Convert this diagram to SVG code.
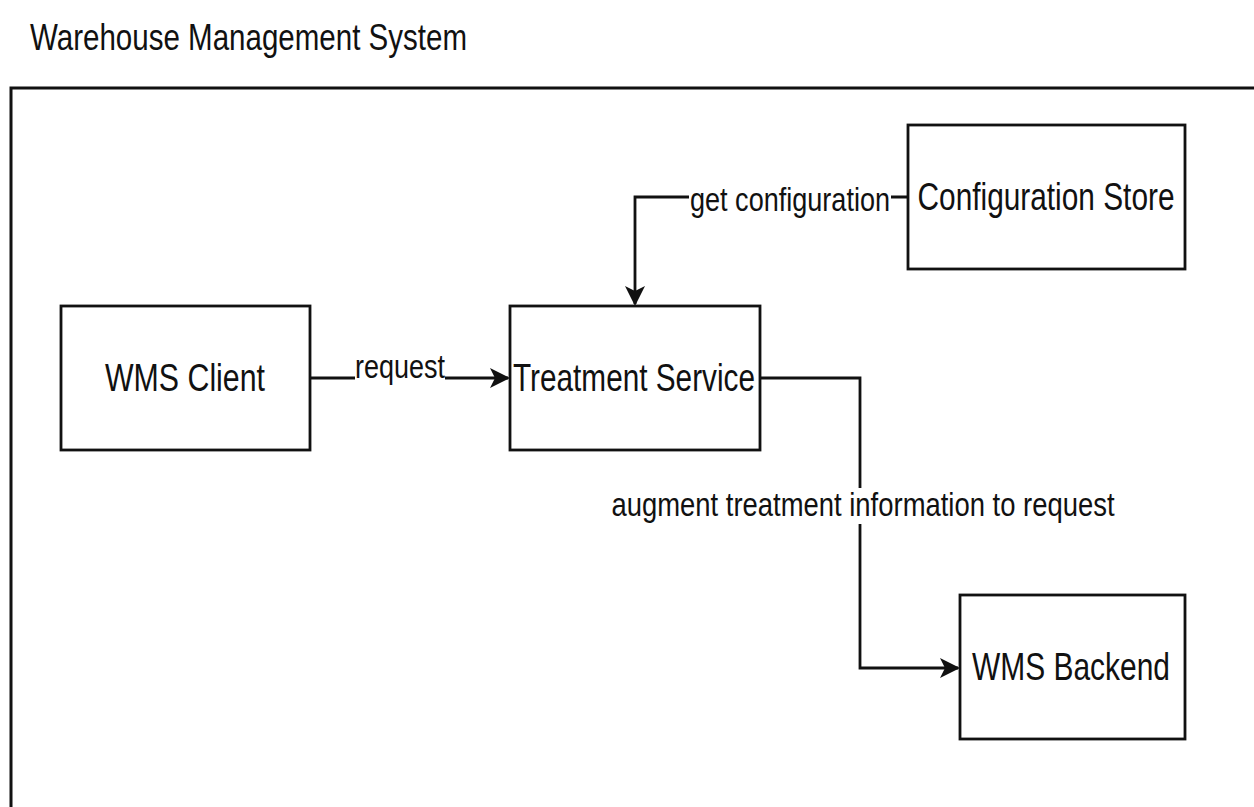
<svg xmlns="http://www.w3.org/2000/svg" width="1254" height="807" viewBox="0 0 1254 807">
<defs>
<style>
.box{fill:#ffffff;stroke:#111111;stroke-width:2.8}
.frame{fill:none;stroke:#111111;stroke-width:3}
.edge{fill:none;stroke:#111111;stroke-width:2.8}
.t{font-family:"Liberation Sans",Arial,sans-serif;fill:#111111}
.node{font-size:39px;text-anchor:middle}
.lbl{font-size:34px;text-anchor:middle}
.bg{fill:#ffffff}
</style>
<marker id="arr" viewBox="0 0 20 20" refX="18" refY="10" markerWidth="20" markerHeight="20" markerUnits="userSpaceOnUse" orient="auto">
<path d="M0,0 L20,10 L0,20 L5,10 z" fill="#111111"/>
</marker>
</defs>
<rect width="1254" height="807" fill="#ffffff"/>
<text class="t" x="30" y="50" font-size="37" textLength="437" lengthAdjust="spacingAndGlyphs">Warehouse Management System</text>
<path class="frame" d="M11,807 L11,88 L1254,88"/>
<g id="connectors">
<path class="edge" d="M310,378 L508,378" marker-end="url(#arr)"/>
<rect class="bg" x="355" y="352" width="90" height="28"/>
<text class="t lbl" x="400" y="378" textLength="90" lengthAdjust="spacingAndGlyphs">request</text>
<path class="edge" d="M908,197 L635,197 L635,304" marker-end="url(#arr)"/>
<rect class="bg" x="689" y="182" width="202" height="36"/>
<text class="t lbl" x="790" y="211" textLength="200" lengthAdjust="spacingAndGlyphs">get configuration</text>
<path class="edge" d="M760,378 L860,378 L860,668 L958,668" marker-end="url(#arr)"/>
<rect class="bg" x="610" y="488" width="507" height="36"/>
<text class="t lbl" x="863" y="516" textLength="503" lengthAdjust="spacingAndGlyphs">augment treatment information to request</text>
</g>
<g id="wms-client">
<rect class="box" x="61" y="306" width="249" height="144"/>
<text class="t node" x="185" y="391" textLength="160" lengthAdjust="spacingAndGlyphs">WMS Client</text>
</g>
<g id="treatment-service">
<rect class="box" x="510" y="306" width="250" height="144"/>
<text class="t node" x="634" y="391" textLength="242" lengthAdjust="spacingAndGlyphs">Treatment Service</text>
</g>
<g id="configuration-store">
<rect class="box" x="908" y="125" width="277" height="144"/>
<text class="t node" x="1046" y="210" textLength="257" lengthAdjust="spacingAndGlyphs">Configuration Store</text>
</g>
<g id="wms-backend">
<rect class="box" x="960" y="595" width="225" height="144"/>
<text class="t node" x="1071" y="680" textLength="198" lengthAdjust="spacingAndGlyphs">WMS Backend</text>
</g>
</svg>
